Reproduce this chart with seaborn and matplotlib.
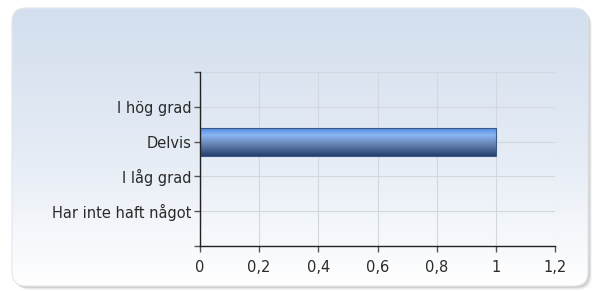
import numpy as np
import pandas as pd
import matplotlib
matplotlib.use("Agg")
import matplotlib.pyplot as plt
from matplotlib.patches import FancyBboxPatch
from matplotlib.colors import LinearSegmentedColormap
import seaborn as sns

# data
categories = ["I hög grad", "Delvis", "I låg grad", "Har inte haft något"]
values = [0, 1, 0, 0]
xticks = [0, 0.2, 0.4, 0.6, 0.8, 1.0, 1.2]
xticklabels = ["0", "0,2", "0,4", "0,6", "0,8", "1", "1,2"]

df = pd.DataFrame({"Svar": categories, "Antal": values})

sns.set_theme(style="white")
plt.rcParams["font.family"] = ["DejaVu Sans"]

fig = plt.figure(figsize=(5.94, 2.91), dpi=100)
fig.patch.set_facecolor("white")

# background panel with rounded corners and soft shadow
bg = fig.add_axes([0, 0, 1, 1], zorder=0)
bg.set_xlim(0, 594)
bg.set_ylim(291, 0)
bg.axis("off")
for off, a in [(4, 0.08), (3, 0.12), (2, 0.2)]:
    bg.add_patch(FancyBboxPatch((12 + off, 8 + off), 576, 278,
                                boxstyle="round,pad=0,rounding_size=14",
                                fc="#808080", ec="none", alpha=a, zorder=0))
panel = FancyBboxPatch((12, 8), 576, 278, boxstyle="round,pad=0,rounding_size=14",
                       fc="none", ec="#e2e6ec", lw=0.8, zorder=3)
bg.add_patch(panel)
panel_cmap = LinearSegmentedColormap.from_list("panel", ["#d3dfee", "#e4ebf5", "#ffffff"])
grad = np.linspace(0, 1, 256).reshape(-1, 1)
im = bg.imshow(grad, cmap=panel_cmap, extent=(12, 588, 286, 8), aspect="auto", zorder=2)
im.set_clip_path(panel)

# main chart
ax = fig.add_axes([200 / 594, 45 / 291, 355 / 594, 174 / 291], zorder=1)
ax.patch.set_alpha(0)
sns.barplot(data=df, x="Antal", y="Svar", order=categories, orient="h",
            width=0.8, color="#5b8fd8", edgecolor="#3a5a88", linewidth=0.8, ax=ax)

bar_cmap = LinearSegmentedColormap.from_list(
    "bar", [(0, "#4f8ae6"), (0.25, "#8cb6f2"), (0.55, "#6a88b8"), (1, "#243f6a")])
for p in ax.patches:
    if p.get_width() <= 0:
        continue
    x0, y0 = p.get_x(), p.get_y()
    w, h = p.get_width(), p.get_height()
    gi = ax.imshow(grad, cmap=bar_cmap, extent=(x0, x0 + w, y0 + h, y0),
                   aspect="auto", zorder=p.get_zorder() + 0.1)
    gi.set_clip_path(p)
    p.set_facecolor("none")
    p.set_zorder(p.get_zorder() + 0.2)

ax.set_xlim(0, 1.2)
ax.set_ylim(4, -1)
ax.set_xticks(xticks)
ax.set_xticklabels(xticklabels)
ax.set_xlabel("")
ax.set_ylabel("")
ax.grid(True, color="#d3d7de", lw=0.8)
ax.set_axisbelow(True)
for s in ["top", "right"]:
    ax.spines[s].set_visible(False)
for s in ["left", "bottom"]:
    ax.spines[s].set_color("#222222")
    ax.spines[s].set_linewidth(1.0)
ax.tick_params(axis="both", which="both", length=4, width=1, color="#555555",
               labelsize=10.5, labelcolor="#2a2a2a", pad=2, left=True, bottom=True)
ax.tick_params(axis="x", pad=6)
ax.set_yticks([-1, 0, 1, 2, 3, 4], minor=False)
ax.set_yticklabels([""] + categories + [""])

fig.savefig("out.png", dpi=100)
